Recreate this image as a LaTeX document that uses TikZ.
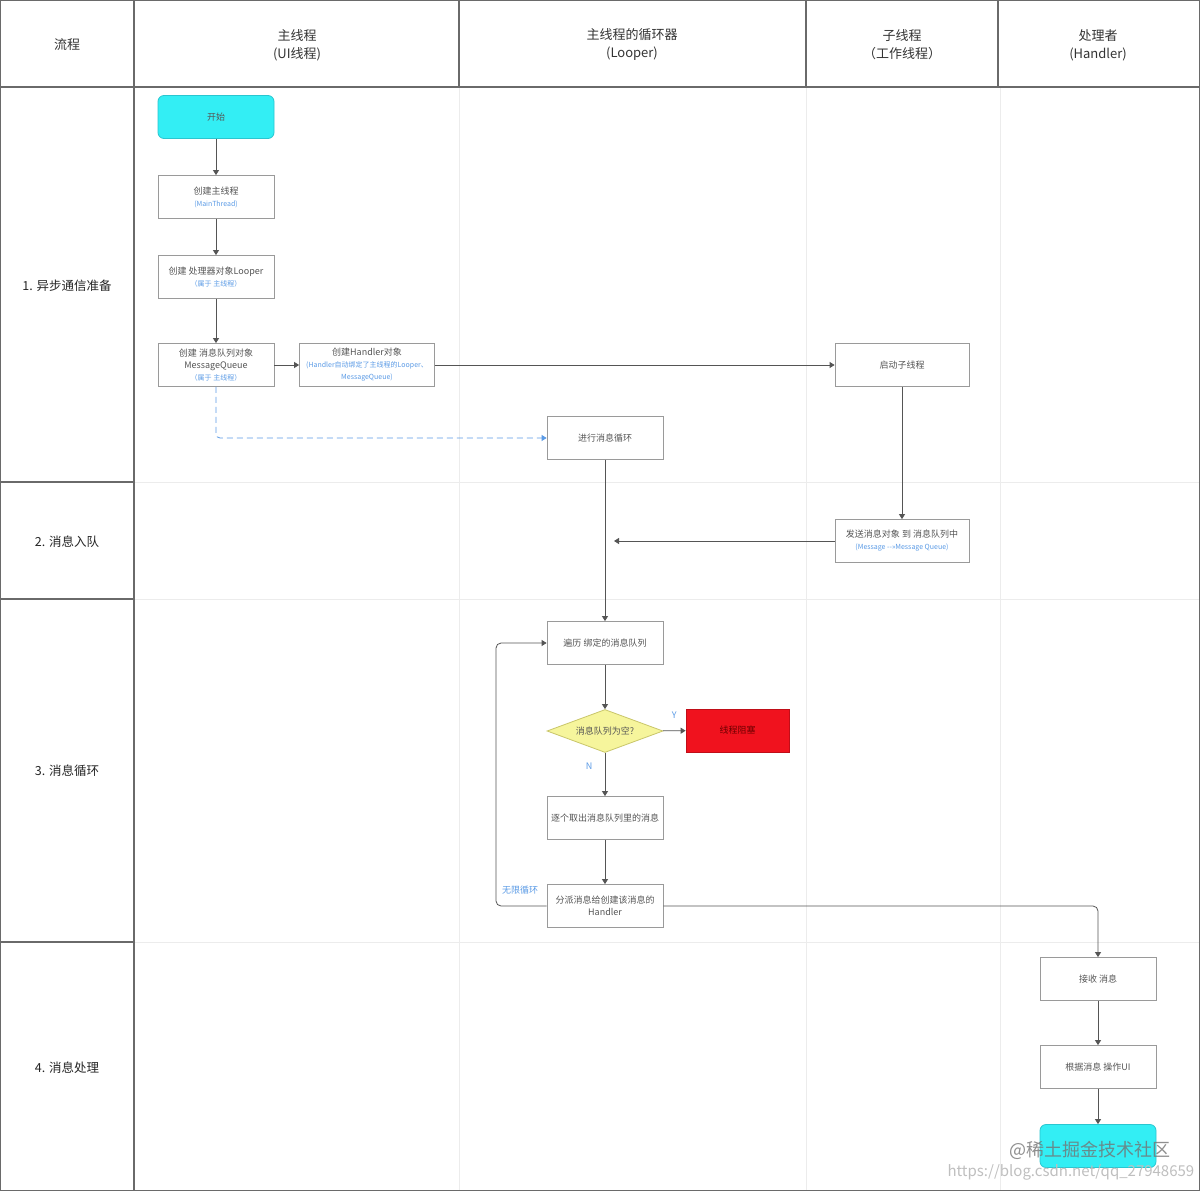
\documentclass[tikz,border=0pt]{standalone}
\usepackage{fontspec}
\setmainfont{Noto Sans CJK SC}
\usetikzlibrary{arrows.meta,shapes.geometric}
\definecolor{boxc}{HTML}{9A9A9A}
\definecolor{txtc}{HTML}{555555}
\definecolor{subc}{HTML}{5B9BE6}
\definecolor{gridd}{HTML}{6A6A6A}
\definecolor{gridl}{HTML}{ECECEC}
\definecolor{cyanf}{HTML}{33EEF4}
\definecolor{cyand}{HTML}{2AC6D0}
\definecolor{redf}{HTML}{F0121E}
\definecolor{yelf}{HTML}{F6F59C}
\definecolor{yeld}{HTML}{C9C66A}
\definecolor{linec}{HTML}{555555}
\newcommand\subtxt[1]{{\color{subc}\fontsize{7}{9}\selectfont #1}}
\begin{document}
\begin{tikzpicture}[x=1pt,y=-1pt,
  box/.style={draw=boxc,line width=0.8pt,fill=white,minimum width=116pt,minimum height=43pt,inner sep=1pt,align=center,text=txtc,font=\fontsize{9}{12}\selectfont},
  wbox/.style={box,minimum width=135pt},
  term/.style={box,draw=cyand,fill=cyanf,rounded corners=6pt,text=txtc},
  hdr/.style={align=center,text=black!80,font=\fontsize{13}{18}\selectfont},
  lane/.style={text=black!85,font=\fontsize{12.5}{16}\selectfont},
  conn/.style={draw=linec,line width=0.8pt,-{Triangle[length=5pt,width=6pt]}},
  lbl/.style={text=subc,font=\fontsize{9}{11}\selectfont},
]
\useasboundingbox (0,0) rectangle (1200,1191);
\fill[white] (0,0) rectangle (1200,1191);
% faint lane grid
\draw[gridl,line width=1pt] (459,87) -- (459,1191) (806,87) -- (806,1191) (1000,87) -- (1000,1191);
\draw[gridl,line width=1pt] (134,482) -- (1200,482) (134,599) -- (1200,599) (134,942) -- (1200,942);
% header and left column
\draw[gridd,line width=1.2pt] (0,0) rectangle (1200,1191);
\draw[gridd,line width=1.6pt] (0,87) -- (1200,87);
\draw[gridd,line width=1.2pt] (134,0) -- (134,1191);
\draw[gridd,line width=1.2pt] (459,0) -- (459,87) (806,0) -- (806,87) (998,0) -- (998,87);
\draw[gridd,line width=1.2pt] (0,482) -- (134,482) (0,599) -- (134,599) (0,942) -- (134,942);
% header texts
\node[hdr] (h0) at (67,45) {流程};
\node[hdr] (h1) at (297,45) {主线程\\(UI线程)};
\node[hdr] (h2) at (632,45) {主线程的循环器\\(Looper)};
\node[hdr] (h3) at (902,45) {子线程\\（工作线程）};
\node[hdr] (h4) at (1098,45) {处理者\\(Handler)};
% lane labels
\node[lane] (l1) at (67,286) {1. 异步通信准备};
\node[lane] (l2) at (67,542) {2. 消息入队};
\node[lane] (l3) at (67,771) {3. 消息循环};
\node[lane] (l4) at (67,1068) {4. 消息处理};
% nodes
\node[term] (start) at (216,117) {开始};
\node[box] (n1) at (216,197) {创建主线程\\\subtxt{(MainThread)}};
\node[box] (n2) at (216,277) {创建 处理器对象Looper\\\subtxt{（属于 主线程）}};
\node[box] (n3) at (216,365) {创建 消息队列对象\\MessageQueue\\\subtxt{（属于 主线程）}};
\node[wbox] (n4) at (367,365) {创建Handler对象\\\subtxt{(Handler自动绑定了主线程的Looper、}\\\subtxt{MessageQueue)}};
\node[wbox,minimum width=134pt] (n5) at (902,365) {启动子线程};
\node[box] (n6) at (605,438) {进行消息循环};
\node[wbox,minimum width=134pt] (n7) at (902,541) {发送消息对象 到 消息队列中\\\subtxt{(Message -{}->>Message Queue)}};
\node[box] (n8) at (605,643) {遍历 绑定的消息队列};
\node[diamond,draw=yeld,fill=yelf,line width=0.8pt,minimum width=116pt,minimum height=43pt,inner sep=0pt,aspect=2.7,text=txtc,font=\fontsize{9}{11}\selectfont] (d) at (605,731) {消息队列为空?};
\node[box,draw=redf!80!black,fill=redf,minimum width=103pt,text={rgb,255:red,110;green,0;blue,0}] (red) at (737.5,730.5) {线程阻塞};
\node[box] (n9) at (605,818) {逐个取出消息队列里的消息};
\node[box] (n10) at (605,906) {分派消息给创建该消息的\\Handler};
\node[box] (n11) at (1098,979) {接收 消息};
\node[box] (n12) at (1098,1067) {根据消息 操作UI};
\node[term] (end) at (1098,1146) {};
% connectors
\draw[conn] (start) -- (n1);
\draw[conn] (n1) -- (n2);
\draw[conn] (n2) -- (n3);
\draw[conn] (n3) -- (n4);
\draw[conn] (n4) -- (n5);
\draw[conn] (n5) -- (n7);
\draw[draw=subc,line width=0.8pt,dashed,dash pattern=on 6pt off 4pt,rounded corners=4pt,-{Triangle[length=5pt,width=6pt]}] (n3.south) |- (n6.west);
\coordinate (q) at (614,541);
\draw[conn] (n7.west) -- (q);
\draw[conn] (n6) -- (n8);
\draw[conn] (n8) -- (d);
\draw[conn] (d) -- node[lbl,pos=0.5,above=9pt] {Y} (red);
\draw[conn] (d) -- node[lbl,pos=0.3,left=9pt] {N} (n9);
\draw[conn] (n9) -- (n10);
\coordinate (lp) at (496,906);
\draw[conn,rounded corners=5pt] (n10.west) -- (lp) |- (n8.west);
\node[lbl] (inf) at (520,890) {无限循环};
\draw[conn,rounded corners=5pt] (n10.east) -| (n11.north);
\draw[conn] (n11) -- (n12);
\draw[conn] (n12) -- (end);
% watermark
\node[anchor=west,text=black!55,opacity=0.8,font=\fontsize{18}{22}\selectfont] (wm1) at (1006,1150) {@稀土掘金技术社区};
\node[anchor=west,text=black!25,font=\fontsize{15}{18}\selectfont] (wm2) at (944,1172) {https://blog.csdn.net/qq\_27948659};
\end{tikzpicture}
\end{document}
